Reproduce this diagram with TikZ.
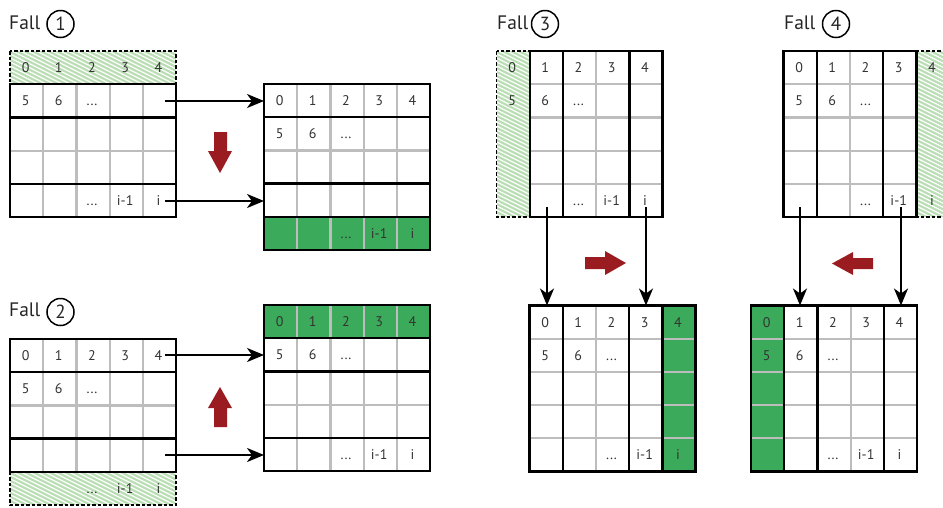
\documentclass[tikz,border=0pt]{standalone}
\usepackage{fontspec}
\setmainfont{PT Sans}
\usetikzlibrary{arrows.meta}
\definecolor{gfill}{HTML}{3BAA5A}
\definecolor{hfill}{HTML}{B9DEB3}
\definecolor{gline}{HTML}{BDBDBD}
\definecolor{redarr}{HTML}{9B1C20}
\tikzset{
 gl/.style={gline, line width=2.2pt},
 bl/.style={black, line width=2.4pt},
 dl/.style={black, line width=1.3pt, dash pattern=on 3.5pt off 2pt},
 num/.style={font=\fontsize{14}{16}\selectfont, text=black!80, inner sep=0pt, anchor=base},
 falllbl/.style={font=\fontsize{19.5}{23}\selectfont, text=black!85, inner sep=0pt, anchor=west},
 circnum/.style={circle, draw, line width=1.5pt, minimum size=27pt, inner sep=0pt, font=\fontsize{19}{22}\selectfont, text=black!85},
 conn/.style={-{Stealth[length=17pt,width=14pt,inset=5pt]}, line width=1.9pt},
 blockarr/.style={fill=redarr},
}
\def\cs{33.2}
\newcommand\mydots{...}
\newcommand\hatchrect[4]{%
 \begin{scope}
  \clip (#1,#2) rectangle (#3,#4);
  \fill[hfill] (#1,#2) rectangle (#3,#4);
  \foreach \s in {-350,-342,...,190} {
    \draw[white, line width=1pt] ({#1+\s-400},{#2-200}) -- ({#1+\s+400},{#2+200});
  }
  \foreach \s in {-347,-339,...,190} {
    \draw[white, line width=0.6pt, opacity=0.7] ({#1+\s-400},{#2-215}) -- ({#1+\s+400},{#2+185});
  }
 \end{scope}
 \draw[dl] (#1,#2) rectangle (#3,#4);
}
\newcommand\vlines[5]{\foreach \c in {#5} \draw[#1] ({#2+\c*\cs},#3) -- ({#2+\c*\cs},#4);}
\newcommand\hlines[5]{\foreach \r in {#5} \draw[#1] (#3,{#2+\r*\cs}) -- (#4,{#2+\r*\cs});}
\newcommand\gridtexts[3]{%
 \foreach \c/\r/\t in {0/0/0,1/0/1,2/0/2,3/0/3,4/0/4,0/1/5,1/1/6,2/1/\mydots,2/4/\mydots,3/4/i-1,4/4/i}
  \node[num] (#1-\c-\r) at ({#2+(\c+0.5)*\cs-1},{#3+(\r+0.5)*\cs+5}) {\t};
}

\begin{document}
\begin{tikzpicture}[x=1pt,y=-1pt]
\useasboundingbox (0,0) rectangle (943,507);
\clip (0,0) rectangle (943,507);
\fill[white] (0,0) rectangle (943,507);

% ---------- Fall 1 ----------
\node[falllbl] (f1) at (9,23) {Fall};
\node[circnum] (n1) at (60.5,24) {1};
% grid A
\hatchrect{10}{51}{176}{84.2}
\vlines{gl}{10}{84.2}{217}{1,2,3,4}
\hlines{gl}{51}{10}{176}{3}
\hlines{bl}{51}{10}{176}{2,4}
\draw[bl] (10,84.2) rectangle (176,217);
\gridtexts{A}{10}{51}
% grid B
\fill[gfill] (264,{84+4*\cs}) rectangle (430,250);
\vlines{gl}{264}{84}{250}{1,2,3,4}
\hlines{gl}{84}{264}{430}{2}
\hlines{bl}{84}{264}{430}{1,3,4}
\draw[bl] (264,84) rectangle (430,250);
\gridtexts{B}{264}{84}
% red arrow down
\fill[blockarr] (214,132) -- (227,132) -- (227,151) -- (232,151) -- (220,173) -- (208,151) -- (214,151) -- cycle;
% connectors
\coordinate (s1) at (165,101); \coordinate (e1) at (264,101);
\coordinate (s2) at (165,201); \coordinate (e2) at (264,201);
\draw[conn] (s1) -- (e1);
\draw[conn] (s2) -- (e2);

% ---------- Fall 2 ----------
\node[falllbl] (f2) at (9,310) {Fall};
\node[circnum] (n2) at (60.5,312) {2};
% grid C
\hatchrect{10}{471.8}{176}{505}
\vlines{gl}{10}{339}{471.8}{1,2,3,4}
\hlines{gl}{339}{10}{176}{2}
\hlines{bl}{339}{10}{176}{1,3}
\draw[bl] (10,339) rectangle (176,471.8);
\gridtexts{C}{10}{339}
% grid D
\fill[gfill] (264,305) rectangle (430,338.2);
\vlines{gl}{264}{305}{471}{1,2,3,4}
\hlines{gl}{305}{264}{430}{3}
\hlines{bl}{305}{264}{430}{1,2,4}
\draw[bl] (264,305) rectangle (430,471);
\gridtexts{D}{264}{305}
% red arrow up
\fill[blockarr] (214,427) -- (227,427) -- (227,408) -- (232,408) -- (220,387) -- (208,408) -- (214,408) -- cycle;
\coordinate (s3) at (165,355); \coordinate (e3) at (264,355);
\coordinate (s4) at (165,455); \coordinate (e4) at (264,455);
\draw[conn] (s3) -- (e3);
\draw[conn] (s4) -- (e4);

% ---------- Fall 3 ----------
\node[falllbl] (f3) at (497,23) {Fall};
\node[circnum] (n3) at (545,24) {3};
% grid E
\hatchrect{496.5}{51}{529.7}{217}
\hlines{gl}{51}{529.7}{662.5}{1,2,3,4}
\vlines{gl}{496.5}{51}{217}{3}
\vlines{bl}{496.5}{51}{217}{2,4}
\draw[bl] (529.7,51) rectangle (662.5,217);
\gridtexts{E}{496.5}{51}
% grid F
\fill[gfill] ({529.5+4*\cs},305.5) rectangle (695.5,471.5);
\hlines{gl}{305.5}{529.5}{695.5}{1,2,3,4}
\vlines{gl}{529.5}{305.5}{471.5}{2}
\vlines{bl}{529.5}{305.5}{471.5}{1,3,4}
\draw[bl] (529.5,305.5) rectangle (695.5,471.5);
\gridtexts{F}{529.5}{305.5}
% red arrow right
\fill[blockarr] (585,257) -- (605,257) -- (605,251) -- (626,263) -- (605,275) -- (605,269) -- (585,269) -- cycle;
\coordinate (s5) at (547,207); \coordinate (e5) at (547,305.5);
\coordinate (s6) at (646,207); \coordinate (e6) at (646,305.5);
\draw[conn] (s5) -- (e5);
\draw[conn] (s6) -- (e6);

% ---------- Fall 4 ----------
\node[falllbl] (f4) at (784,23) {Fall};
\node[circnum] (n4) at (836,24) {4};
% grid G
\hatchrect{916.3}{51}{949.5}{217}
\hlines{gl}{51}{783.5}{916.3}{1,2,3,4}
\vlines{gl}{783.5}{51}{217}{2}
\vlines{bl}{783.5}{51}{217}{1,3}
\draw[bl] (783.5,51) rectangle (916.3,217);
\gridtexts{G}{783.5}{51}
% grid H
\fill[gfill] (751,305.5) rectangle (784.2,471.5);
\hlines{gl}{305.5}{751}{917}{1,2,3,4}
\vlines{gl}{751}{305.5}{471.5}{3}
\vlines{bl}{751}{305.5}{471.5}{1,2,4}
\draw[bl] (751,305.5) rectangle (917,471.5);
\gridtexts{H}{751}{305.5}
% red arrow left
\fill[blockarr] (873,258) -- (853,258) -- (853,252) -- (832,263.5) -- (853,275) -- (853,269) -- (873,269) -- cycle;
\coordinate (s7) at (800,207); \coordinate (e7) at (800,305.5);
\coordinate (s8) at (901,207); \coordinate (e8) at (901,305.5);
\draw[conn] (s7) -- (e7);
\draw[conn] (s8) -- (e8);
\end{tikzpicture}
\end{document}
